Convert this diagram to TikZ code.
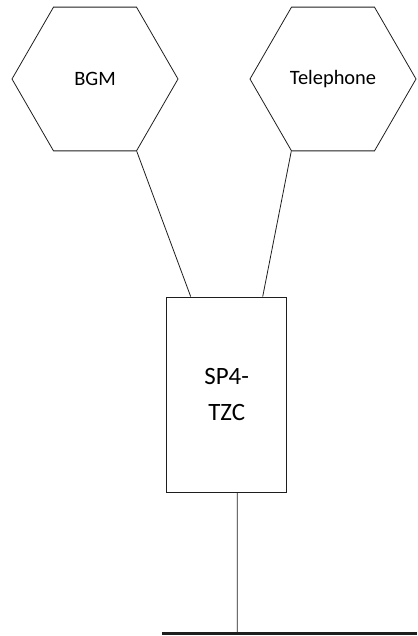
\documentclass[tikz,border=0pt]{standalone}
\usepackage{fontspec}
\setmainfont{Carlito}
\usepackage{tikz}
\usetikzlibrary{
  positioning,
  shapes.geometric
}
\definecolor{ink}{RGB}{30,30,30}

\begin{document}
\begin{tikzpicture}[
  x=1bp, y=-1bp,
  hexnode/.style={draw=ink, line width=0.8bp, regular polygon, regular polygon sides=6,
    minimum size=166bp, inner sep=0pt, font=\fontsize{20.5}{24}\selectfont},
  unit/.style={draw=ink, line width=0.8bp, minimum width=120bp, minimum height=195bp,
    align=center, font=\fontsize{25}{36.5}\selectfont},
  wire/.style={draw=ink, line width=0.8bp}
]
\useasboundingbox (0,0) rectangle (417,636);
\node[hexnode] (bgm) at (95,79) {BGM};
\node[hexnode] (tel) at (333,79) {Telephone};
\node[unit] (sp4) at (226.7,394.5) {SP4-\\TZC};
\coordinate (busL) at (162,633);
\coordinate (busR) at (417,633);
\coordinate (tap) at (237.3,633);
\draw[wire] (bgm.corner 5) -- ([xshift=-36bp]sp4.north);
\draw[wire] (tel.corner 4) -- ([xshift=36bp]sp4.north);
\draw[wire] ([xshift=10.6bp]sp4.south) -- (tap);
\draw[draw=ink, line width=3bp] (busL) -- (busR);
\end{tikzpicture}
\end{document}
